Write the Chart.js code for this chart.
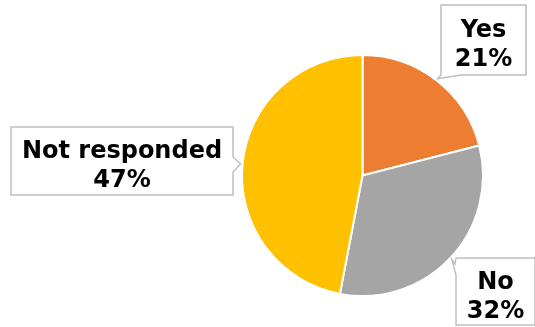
<!DOCTYPE html>
<html lang="en">
<head>
    <meta charset="UTF-8">
    <title>Responses</title>
    <style>
        body { margin: 0; background: #ffffff; }
        #wrap { width: 535px; height: 327px; }
    </style>
    <script src="https://cdn.jsdelivr.net/npm/chart.js"></script>
</head>
<body>
    <div id="wrap">
        <canvas id="pieChart" width="535" height="327"></canvas>
    </div>

    <script>
        const categories = ['Yes', 'No', 'Not responded'];
        const shares = [21, 32, 47];
        const sliceColors = ['#ED7D31', '#A5A5A5', '#FFC000'];

        // callout boxes: x, y, w, h and which side the pointer leaves from
        const callouts = [
            { x: 441, y: 5, w: 85, h: 70, side: 'bottom' },
            { x: 456, y: 258, w: 79, h: 67, side: 'left' },
            { x: 11, y: 127, w: 222, h: 68, side: 'right' }
        ];

        const calloutPlugin = {
            id: 'callouts',
            afterDraw(chart) {
                const ctx = chart.ctx;
                const arcs = chart.getDatasetMeta(0).data;
                arcs.forEach((arc, i) => {
                    const box = callouts[i];
                    const mid = (arc.startAngle + arc.endAngle) / 2;
                    const r = arc.outerRadius + 2;
                    const tx = arc.x + Math.cos(mid) * r;
                    const ty = arc.y + Math.sin(mid) * r;

                    // outline with a small wedge pointing at the slice
                    const x0 = box.x, y0 = box.y, x1 = box.x + box.w, y1 = box.y + box.h;
                    ctx.save();
                    ctx.beginPath();
                    ctx.moveTo(x0, y0);
                    if (box.side === 'left') {
                        ctx.lineTo(x1, y0);
                        ctx.lineTo(x1, y1);
                        ctx.lineTo(x0, y1);
                        ctx.lineTo(x0, y0 + 17);
                        ctx.lineTo(tx, ty);
                        ctx.lineTo(x0 - 1, y0 + 6);
                    } else if (box.side === 'right') {
                        ctx.lineTo(x1, y0);
                        ctx.lineTo(x1, y0 + 30);
                        ctx.lineTo(tx, ty);
                        ctx.lineTo(x1, y0 + 45);
                        ctx.lineTo(x1, y1);
                        ctx.lineTo(x0, y1);
                    } else {
                        ctx.lineTo(x1, y0);
                        ctx.lineTo(x1, y1);
                        ctx.lineTo(x0 + 20, y1);
                        ctx.lineTo(tx, ty);
                        ctx.lineTo(x0, y1);
                    }
                    ctx.closePath();
                    ctx.fillStyle = '#ffffff';
                    ctx.fill();
                    ctx.lineWidth = 1.5;
                    ctx.strokeStyle = '#BFBFBF';
                    ctx.stroke();

                    ctx.fillStyle = '#000000';
                    ctx.font = 'bold 24px "DejaVu Sans", Verdana, sans-serif';
                    ctx.textAlign = 'center';
                    ctx.textBaseline = 'alphabetic';
                    const cx = box.x + box.w / 2;
                    const cy = box.y + box.h / 2;
                    ctx.fillText(categories[i], cx, cy - 3);
                    ctx.fillText(shares[i] + '%', cx, cy + 26);
                    ctx.restore();
                });
            }
        };

        new Chart(document.getElementById('pieChart'), {
            type: 'pie',
            data: {
                labels: categories,
                datasets: [{
                    data: shares,
                    backgroundColor: sliceColors,
                    borderColor: '#ffffff',
                    borderWidth: 2
                }]
            },
            options: {
                responsive: false,
                animation: false,
                layout: { padding: { left: 241, right: 51, top: 54, bottom: 30 } },
                plugins: {
                    legend: { display: false },
                    tooltip: { enabled: false }
                }
            },
            plugins: [calloutPlugin]
        });
    </script>
</body>
</html>
